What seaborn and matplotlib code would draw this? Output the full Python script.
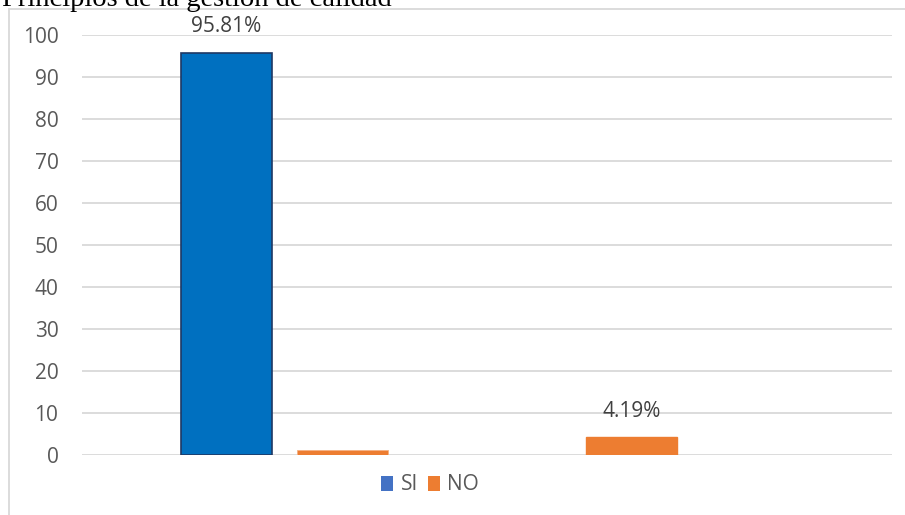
import matplotlib
matplotlib.use("Agg")
import matplotlib.pyplot as plt
import seaborn as sns
import pandas as pd
from matplotlib.patches import Patch, Rectangle

# ---- data ----
title = "Principios de la gestión de calidad"
groups = ["G1", "G2"]
series = ["SI", "NO"]
si_values = [95.81, 4.19]
no_values = [1.2, 0.0]
labels_si = ["95.81%", "4.19%"]
yticks = [0, 10, 20, 30, 40, 50, 60, 70, 80, 90, 100]

BLUE_FILL = "#0070C0"
BLUE_EDGE = "#1F3864"
BLUE_LEG = "#4472C4"
ORANGE = "#ED7D31"
GRID = "#D9D9D9"
TXT = "#595959"

df = pd.DataFrame({
    "group": groups * 2,
    "serie": ["SI"] * len(groups) + ["NO"] * len(groups),
    "value": si_values + no_values,
})

sns.set_theme(style="white")
plt.rcParams["font.family"] = ["Open Sans", "DejaVu Sans"]

fig = plt.figure(figsize=(9.05, 5.15), dpi=100)
ax = fig.add_axes([82 / 905, 1 - 455 / 515, 810 / 905, 420 / 515])

sns.barplot(data=df, x="group", y="value", hue="serie", order=groups,
            hue_order=series, palette=[BLUE_FILL, ORANGE], width=0.573,
            gap=0.216, ax=ax, legend=False, saturation=1)

# recolor bars: first group SI is blue w/ dark edge; second group SI bar is orange
containers = ax.containers
si_bars = containers[0]
no_bars = containers[1]
si_bars[0].set_facecolor(BLUE_FILL)
si_bars[0].set_edgecolor(BLUE_EDGE)
si_bars[0].set_linewidth(1.2)
si_bars[1].set_facecolor(ORANGE)
si_bars[1].set_edgecolor(ORANGE)
for b in no_bars:
    b.set_facecolor(ORANGE)
    b.set_edgecolor("#F4B183")
    b.set_linewidth(0.6)

ax.bar_label(si_bars, labels=labels_si, padding=11, fontsize=15, color="#404040")

ax.set_xlim(-0.5, 1.5)
ax.set_ylim(0, 100)
ax.set_yticks(yticks)
ax.set_yticklabels([str(t) for t in yticks], fontsize=15, color=TXT)
ax.tick_params(axis="y", length=0, pad=17)
ax.set_xticks([])
ax.set_xlabel("")
ax.set_ylabel("")
ax.yaxis.grid(True, color=GRID, linewidth=1.3)
ax.set_axisbelow(True)
for s in ax.spines.values():
    s.set_visible(False)
ax.patch.set_alpha(0)

# chart border (partially visible)
fig.patches.append(Rectangle((9 / 905, -0.5), 2.0, (1 - 9 / 515) + 0.5,
                             transform=fig.transFigure, fill=False,
                             edgecolor=GRID, linewidth=1.3, zorder=0))

# title (cut at top, as in the source)
fig.text(2 / 905, 1 - 6 / 515, title, family=["Liberation Serif", "DejaVu Serif"],
         fontsize=20.5, color="black", ha="left", va="baseline")

handles = [Patch(facecolor=BLUE_LEG, edgecolor="none", label="SI"),
           Patch(facecolor=ORANGE, edgecolor="none", label="NO")]
fig.legend(handles=handles, loc="center", bbox_to_anchor=(430 / 905, 1 - 485 / 515),
           ncol=2, frameon=False, fontsize=15, labelcolor=TXT,
           handlelength=0.6, handleheight=0.75, handletextpad=0.35,
           columnspacing=0.45)

fig.savefig("out.png", dpi=100)
